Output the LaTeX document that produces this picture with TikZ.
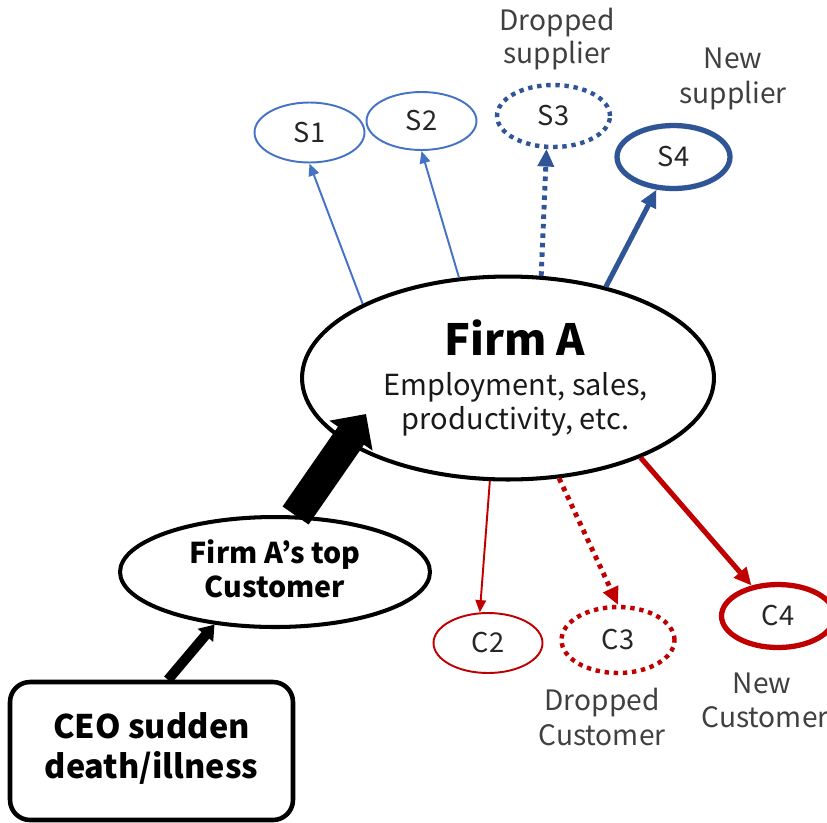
\documentclass[tikz,border=0pt]{standalone}
\usepackage{fontspec}
\setmainfont{Noto Sans CJK JP}
\usetikzlibrary{arrows.meta,shapes.geometric}
\definecolor{LightBlue}{RGB}{68,114,196}
\definecolor{DeepBlue}{RGB}{47,85,151}
\definecolor{DeepRed}{RGB}{192,0,0}
\definecolor{TextGray}{RGB}{64,64,64}
\tikzset{
  hub/.style={ellipse,draw,line width=2.3pt,fill=white,inner sep=0pt},
  partner/.style={ellipse,fill=white,inner sep=0pt,minimum width=2.2cm,
    minimum height=1.2cm,text=black!85,font=\fontsize{15.5}{19}\selectfont},
  weak/.style={line width=1.1pt,-{Triangle[length=7pt,width=6pt]}},
  dropped/.style={line width=2.5pt,dash pattern=on 2.5pt off 2.7pt},
  droparrow/.style={line width=2.8pt,dash pattern=on 2.6pt off 2.8pt,
    -{Triangle[length=10pt,width=9pt]}},
  strong/.style={line width=2.9pt,-{Triangle[length=10pt,width=9pt]}},
  note/.style={anchor=base,inner sep=0pt,text=TextGray,
    font=\fontsize{16}{19}\selectfont},
  boldnote/.style={anchor=base,inner sep=0pt,font=\bfseries\fontsize{16.3}{19}\selectfont}
}

\begin{document}
\begin{tikzpicture}[x=0.02cm,y=-0.02cm]
  \useasboundingbox (0,0) rectangle (827,822);

  % central firm
  \node[hub,minimum width=8.24cm,minimum height=4.06cm] (firm) at (508,378) {};
  \node[anchor=base,inner sep=0pt,font=\bfseries\fontsize{24.5}{30}\selectfont]
    (firmname) at ([xshift=0.14cm,yshift=0.46cm]firm.center) {Firm A};
  \node[note,text=black!90,font=\fontsize{16.5}{20}\selectfont] (firmline1)
    at ([xshift=0.15cm,yshift=-0.34cm]firm.center) {Employment, sales,};
  \node[note,text=black!90,font=\fontsize{16.5}{20}\selectfont] (firmline2)
    at ([xshift=0.15cm,yshift=-1.02cm]firm.center) {productivity, etc.};

  % suppliers
  \node[partner,draw=LightBlue,line width=1.1pt] (s1) at (309.5,132.5) {S1};
  \node[partner,draw=LightBlue,line width=1.1pt,minimum height=1.16cm] (s2) at (421.5,121) {S2};
  \node[partner,draw=DeepBlue,dropped,minimum width=2.26cm,minimum height=1.24cm] (s3) at (553.5,116) {S3};
  \node[partner,draw=DeepBlue,line width=3pt,minimum width=2.26cm,minimum height=1.26cm] (s4) at (673.5,157) {S4};

  \node[note] (s3note1) at (557,30) {Dropped};
  \node[note] (s3note2) at (557,63) {supplier};
  \node[note] (s4note1) at (733,68) {New};
  \node[note] (s4note2) at (733,103) {supplier};

  % customers
  \node[partner,draw=DeepRed,line width=1.1pt,minimum width=2.18cm] (c2) at (488,643) {C2};
  \node[partner,draw=DeepRed,dropped,minimum width=2.26cm,minimum height=1.32cm] (c3) at (618,640) {C3};
  \node[partner,draw=DeepRed,line width=3pt,minimum width=2.26cm,minimum height=1.26cm] (c4) at (778,616) {C4};

  \node[note] (c3note1) at (602,710) {Dropped};
  \node[note] (c3note2) at (602,745) {Customer};
  \node[note] (c4note1) at (762,693) {New};
  \node[note] (c4note2) at (765,727) {Customer};

  % shock chain
  \node[hub,minimum width=6.2cm,minimum height=2.2cm] (topcust) at (275,572) {};
  \node[boldnote] (topline1) at ([yshift=0.18cm]topcust.center) {Firm A’s top};
  \node[boldnote] (topline2) at ([yshift=-0.5cm]topcust.center) {Customer};

  \node[draw,line width=2.6pt,rounded corners=0.4cm,fill=white,
        minimum width=5.66cm,minimum height=2.76cm] (ceo) at (151.5,751) {};
  \node[boldnote,font=\bfseries\fontsize{18.5}{22}\selectfont] (ceoline1)
    at ([yshift=0.26cm]ceo.center) {CEO sudden};
  \node[boldnote,font=\bfseries\fontsize{18.5}{22}\selectfont] (ceoline2)
    at ([yshift=-0.54cm]ceo.center) {death/illness};

  \coordinate (hit) at (366,414);
  \draw[line width=18pt,-{Triangle[length=15pt,width=29pt]}] (topcust.70) -- (hit);
  \draw[line width=5.7pt,-{Triangle[length=8pt,width=11pt]}] (ceo.77) -- (topcust.221);

  % supplier links
  \draw[LightBlue,weak] (firm.153) -- (s1.south);
  \draw[LightBlue,weak] (firm.116) -- (s2.south);
  \draw[DeepBlue,droparrow] (firm.72) -- (s3.258);
  \draw[DeepBlue,strong] (firm.43) -- (s4);

  % customer links
  \draw[DeepRed,weak] (firm.260) -- (c2.105);
  \draw[DeepRed,droparrow] (firm.297) -- (c3.north);
  \draw[DeepRed,strong] (firm.329) -- (c4);
\end{tikzpicture}
\end{document}
